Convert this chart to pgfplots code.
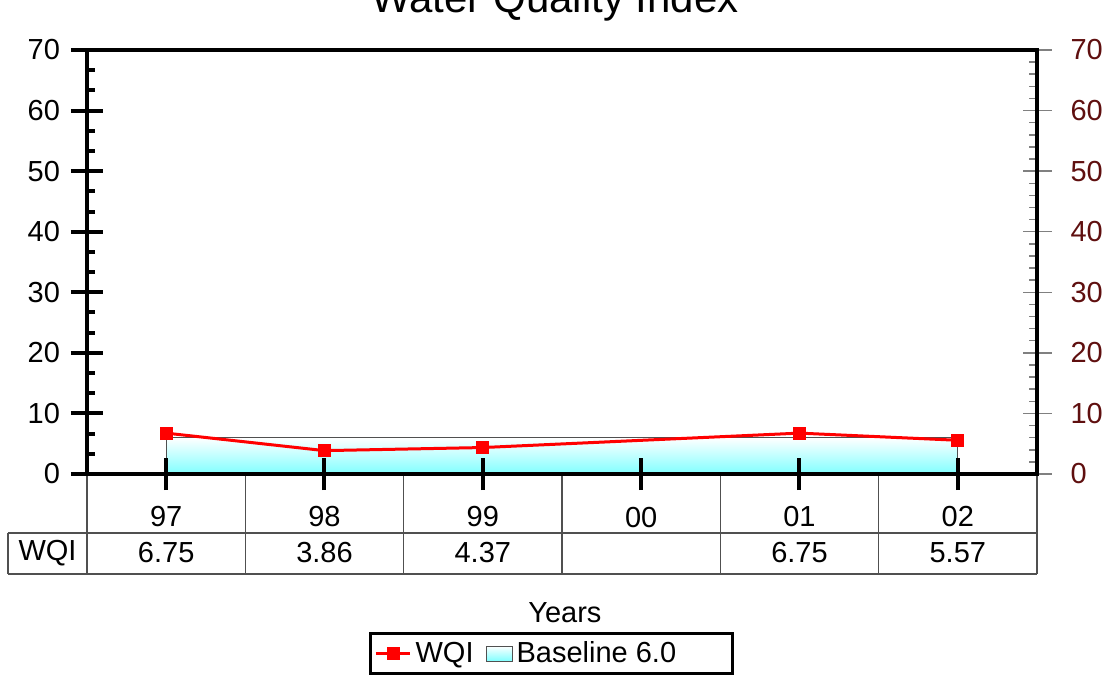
\documentclass[border=0pt]{standalone}
\usepackage{fontspec}
\setmainfont{Liberation Sans}
\usepackage{pgfplots}
\pgfplotsset{compat=1.18}
\definecolor{rlab}{RGB}{95,15,15}
\definecolor{gridc}{RGB}{80,80,80}
\newcommand{\fs}{\fontsize{14.5}{18}\selectfont}
\pgfplotsset{swatch/.style={legend image code/.code={\draw[##1, draw=gridc] (0pt,-3.75pt) rectangle (13pt,3.75pt);}}}

\begin{document}
\begin{tikzpicture}
% right-hand scale (grey ticks, dark red labels)
\begin{axis}[
  width=475pt, height=212pt, scale only axis,
  xmin=-0.5, xmax=5.5, ymin=0, ymax=70,
  axis x line=none, axis y line*=right,
  y axis line style={draw=none},
  ytick distance=10, minor y tick num=4,
  tick align=center, major tick length=14.5pt, minor tick length=4pt,
  every tick/.style={gray, line width=0.75pt},
  minor y tick style={xshift=-2pt},
  yticklabel style={text=rlab, font=\fs, anchor=west, xshift=6pt},
  /pgf/number format/assume math mode=true,
]
\end{axis}
% main axis
\begin{axis}[
  width=475pt, height=212pt, scale only axis,
  axis on top,
  xmin=-0.5, xmax=5.5, ymin=0, ymax=70,
  axis line style={line width=2pt},
  xtick={0,...,5},
  xticklabels={{97\\6.75},{98\\3.86},{99\\4.37},{00\\},{01\\6.75},{02\\5.57}},
  xticklabel style={align=center, anchor=center, yshift=-22.5pt, font=\fs},
  xtick pos=bottom, ytick pos=left,
  ytick distance=10, minor y tick num=2,
  tick align=center,
  major tick length=16pt, minor tick length=4pt,
  every tick/.style={black, line width=2pt},
  minor y tick style={xshift=2pt},
  yticklabel style={font=\fs, xshift=-2pt},
  /pgf/number format/assume math mode=true,
  title={Water Quality Index},
  every axis title shift=0pt,
  title style={at={(axis description cs:0.4926,1.0896)}, anchor=base, font=\fontsize{21}{25}\selectfont},
  xlabel={Years},
  xlabel style={at={(axis description cs:0.503,-0.328)}, anchor=center, font=\fs},
  legend style={at={(axis description cs:0.2968,-0.3726)}, anchor=north west, legend columns=-1,
    draw=black, line width=1.5pt, font=\fs, inner xsep=2pt,
    nodes={inner xsep=2pt},
    /tikz/every even column/.append style={column sep=4pt}},
  reverse legend,
]
\addplot[draw=gridc, line width=0.5pt, top color=white, bottom color=cyan!50, swatch]
  coordinates {(0,6.0)(1,6.0)(2,6.0)(3,6.0)(4,6.0)(5,6.0)} \closedcycle;
\addlegendentry{Baseline 6.0\hspace*{24pt}}
\addplot[red, line width=1.5pt, mark=square*, mark size=2.5pt]
  coordinates {(0,6.75)(1,3.86)(2,4.37)(4,6.75)(5,5.57)};
\addlegendentry{WQI}
\node[font=\fs] at (rel axis cs:0.033,1.059) {WQI};
\end{axis}
% data table grid
\foreach \i in {0,...,6} \draw[gridc, line width=0.6pt] (\i*79.1667pt,-1pt) -- (\i*79.1667pt,-50pt);
\draw[gridc, line width=0.6pt] (-39.5pt,-29.5pt) -- (475pt,-29.5pt);
\draw[gridc, line width=0.6pt] (-39.5pt,-50pt) -- (475pt,-50pt);
\draw[gridc, line width=0.6pt] (-39.5pt,-29.5pt) -- (-39.5pt,-50pt);
\node[font=\fs] at (-19.75pt,-39.75pt) {WQI};
\pgfresetboundingbox
\useasboundingbox (-43.5pt,-101.5pt) rectangle (509pt,237pt);
\end{tikzpicture}
\end{document}
